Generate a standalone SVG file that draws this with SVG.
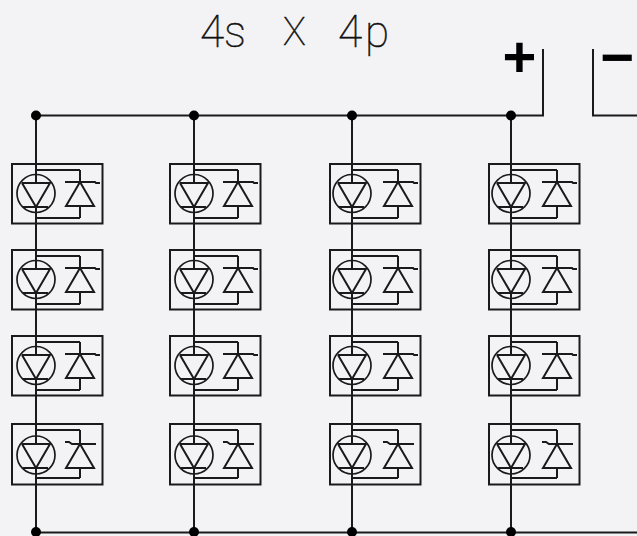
<svg xmlns="http://www.w3.org/2000/svg" width="637" height="536" viewBox="0 0 637 536">
<style>
.w{fill:none;stroke:#1a1a1a;stroke-width:2}
.c{fill:none;stroke:#1a1a1a;stroke-width:1.7}
.d{fill:#000}
.t{font-family:Roboto,"Liberation Sans",sans-serif;font-weight:100;font-size:44px;fill:#111;stroke:#111;stroke-width:.5}
.s{font-family:"Liberation Sans",sans-serif;font-weight:700;font-size:58px;fill:#000;text-anchor:middle}
</style>
<defs>
<g id="led">
<circle class="c" cx="0" cy="29.5" r="19"/>
<path class="w" d="M-14 19H14L0 43L-14 19M-13 43H12"/>
</g>
<g id="led4">
<circle class="c" cx="0" cy="31" r="19"/>
<path class="w" d="M-14 20H14L0 44L-14 20M-13 44H12"/>
</g>
<g id="part">
<rect class="w" x="0" y="0" width="90.500" height="59.500"/>
<path class="w" d="M68 6V18M53 18H83L84 19H88M68 18L82 42H54L68 18M68 42V54"/>
</g>
<g id="part4">
<rect class="w" x="0" y="0" width="90.500" height="60.500"/>
<path class="w" d="M68 6V20M53 18H57L60 20H84M68 20L82 44H54L68 20M68 44V54"/>
</g>
<path id="run" class="w" d="M0 115V183M0 207V269M0 293V355M0 379V444M0 468V532"/>
</defs>
<rect width="637" height="536" fill="#f3f3f5"/>
<g id="title">
<text class="t" x="200" y="47">4s</text>
<text class="t" x="283" y="45" style="font-size:38px">X</text>
<text class="t" x="338" y="47" style="letter-spacing:3px">4p</text>
</g>
<text id="plus" class="s" x="519.500" y="77">+</text>
<text id="minus" class="s" x="617.500" y="77">−</text>
<g id="connectors">
<path class="w" d="M36 115.500H543V49M593 49V115.500H637M36 532.500H637"/>
<use href="#run" x="36"/><use href="#run" x="194"/><use href="#run" x="352"/><use href="#run" x="511"/>
<g class="d">
<circle cx="36" cy="115.500" r="5"/><circle cx="194" cy="115.500" r="5"/><circle cx="352" cy="115.500" r="5"/><circle cx="511" cy="115.500" r="5"/>
<circle cx="36" cy="532" r="5"/><circle cx="194" cy="532" r="5"/><circle cx="352" cy="532" r="5"/><circle cx="511" cy="532" r="5"/>
</g>
</g>
<g id="c1r1"><use href="#part" x="12" y="164"/><use href="#led" x="36" y="164"/><path class="w" d="M36 170H80M36 218H80"/></g>
<g id="c1r2"><use href="#part" x="12" y="250"/><use href="#led" x="36" y="250"/><path class="w" d="M36 256H80M36 304H80"/></g>
<g id="c1r3"><use href="#part" x="12" y="336"/><use href="#led" x="36" y="336"/><path class="w" d="M36 342H80M36 390H80"/></g>
<g id="c1r4"><use href="#part4" x="12" y="424"/><use href="#led4" x="36" y="424"/><path class="w" d="M36 430H80M36 478H80"/></g>
<g id="c2r1"><use href="#part" x="170" y="164"/><use href="#led" x="194" y="164"/><path class="w" d="M194 170H238M194 218H238"/></g>
<g id="c2r2"><use href="#part" x="170" y="250"/><use href="#led" x="194" y="250"/><path class="w" d="M194 256H238M194 304H238"/></g>
<g id="c2r3"><use href="#part" x="170" y="336"/><use href="#led" x="194" y="336"/><path class="w" d="M194 342H238M194 390H238"/></g>
<g id="c2r4"><use href="#part4" x="170" y="424"/><use href="#led4" x="194" y="424"/><path class="w" d="M194 430H238M194 478H238"/></g>
<g id="c3r1"><use href="#part" x="330" y="164"/><use href="#led" x="352" y="164"/><path class="w" d="M352 170H398M352 218H398"/></g>
<g id="c3r2"><use href="#part" x="330" y="250"/><use href="#led" x="352" y="250"/><path class="w" d="M352 256H398M352 304H398"/></g>
<g id="c3r3"><use href="#part" x="330" y="336"/><use href="#led" x="352" y="336"/><path class="w" d="M352 342H398M352 390H398"/></g>
<g id="c3r4"><use href="#part4" x="330" y="424"/><use href="#led4" x="352" y="424"/><path class="w" d="M352 430H398M352 478H398"/></g>
<g id="c4r1"><use href="#part" x="489" y="164"/><use href="#led" x="511" y="164"/><path class="w" d="M511 170H557M511 218H557"/></g>
<g id="c4r2"><use href="#part" x="489" y="250"/><use href="#led" x="511" y="250"/><path class="w" d="M511 256H557M511 304H557"/></g>
<g id="c4r3"><use href="#part" x="489" y="336"/><use href="#led" x="511" y="336"/><path class="w" d="M511 342H557M511 390H557"/></g>
<g id="c4r4"><use href="#part4" x="489" y="424"/><use href="#led4" x="511" y="424"/><path class="w" d="M511 430H557M511 478H557"/></g>
</svg>
